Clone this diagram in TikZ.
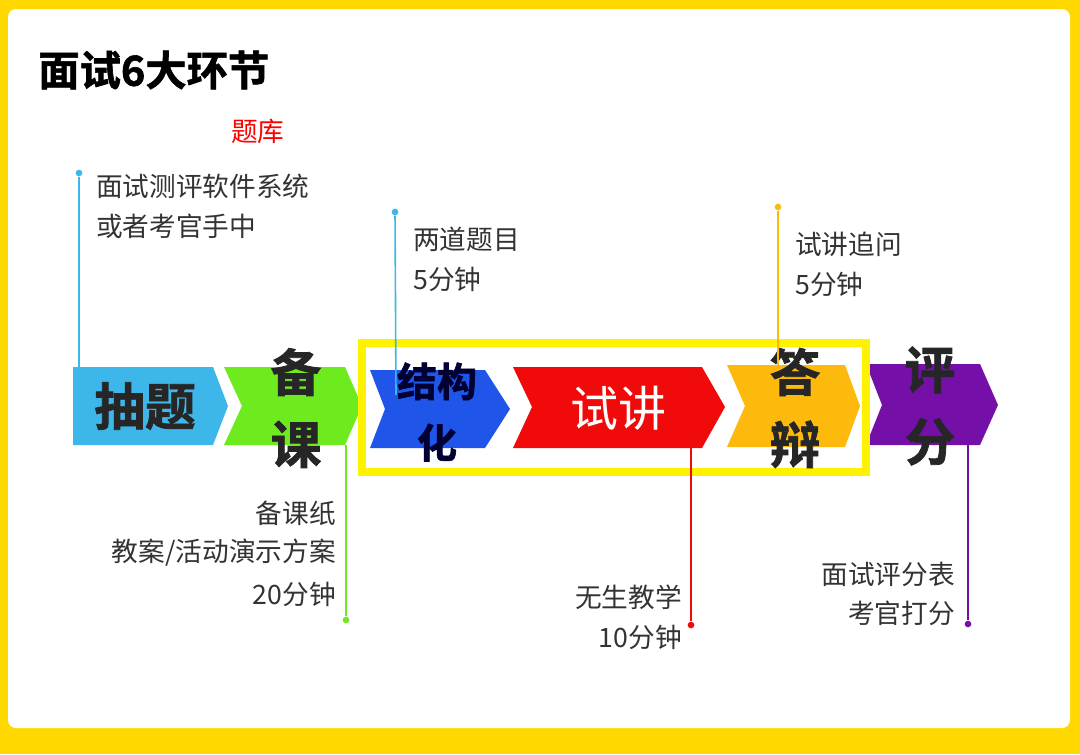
\documentclass[tikz,border=0pt]{standalone}
\usepackage{fontspec}
\setmainfont{Noto Sans CJK SC}
\newfontfamily\cjkb[FakeBold=1.5]{Noto Sans CJK SC Bold}
\definecolor{ybg}{HTML}{FFD800}
\definecolor{cyanA}{HTML}{3DB7E9}
\definecolor{greenA}{HTML}{6EEB1E}
\definecolor{blueA}{HTML}{1F55E8}
\definecolor{redA}{HTML}{F00A0A}
\definecolor{orangeA}{HTML}{FDB90C}
\definecolor{purpleA}{HTML}{7410A8}
\definecolor{txt}{HTML}{333333}
\tikzset{
 lbl/.style={font=\fontsize{20}{24}\selectfont, text=txt, inner sep=0pt},
 chev/.style={font=\cjkb\fontsize{38}{40}\selectfont, text=black!85, inner sep=0pt, align=center},
 lead/.style={line width=1.2pt},
 dotc/.style={circle, fill, inner sep=0pt, minimum size=5pt}
}
\begin{document}
\begin{tikzpicture}[x=0.75pt,y=-0.75pt]
\useasboundingbox (0,0) rectangle (1080,754);
\fill[ybg] (0,0) rectangle (1080,754);
\fill[white, rounded corners=6pt] (8,9) rectangle (1070,728);
\node[anchor=west, font=\cjkb\fontsize{31}{33}\selectfont, inner sep=0pt] (title) at (38,70) {面试6大环节};
% chevrons
\fill[cyanA] (73,367) -- (213,367) -- (228,406) -- (213,445) -- (73,445) -- cycle;
\fill[greenA] (224,367) -- (345,367) -- (362,406) -- (345,445) -- (224,445) -- (242,406) -- cycle;
\fill[blueA] (370,370) -- (485,370) -- (510,409) -- (485,448) -- (370,448) -- (385,409) -- cycle;
\fill[redA] (513,367) -- (702,367) -- (725,407) -- (702,448) -- (513,448) -- (532,407) -- cycle;
\fill[orangeA] (727,365) -- (845,365) -- (860,406) -- (845,447) -- (727,447) -- (745,406) -- cycle;
\fill[purpleA] (866,364) -- (980,364) -- (998,405) -- (980,445) -- (866,445) -- (882,405) -- cycle;
\draw[yellow, line width=6pt] (362,343) rectangle (866,472);
\node[chev] (c1) at (145,406) {抽题};
\node[chev, font=\cjkb\fontsize{38}{54}\selectfont] (c2) at (296,408) {备\\课};
\node[chev, font=\cjkb\fontsize{30}{46}\selectfont, text=black!80!blue] (c3) at (437,412) {结构\\化};
\node[chev, text=white, font=\fontsize{36}{38}\selectfont] (c4) at (618,408) {试讲};
\node[chev, font=\cjkb\fontsize{38}{54}\selectfont] (c5) at (795,408) {答\\辩};
\node[chev, font=\cjkb\fontsize{38}{54}\selectfont] (c6) at (930,406) {评\\分};
% leaders top
\node[dotc, cyanA] (d1) at (79,173) {};
\coordinate (e1) at (79,367);
\draw[lead, cyanA] (d1) -- (e1);
\node[lbl, text=red, anchor=west] (t0) at (231,131) {题库};
\node[lbl, anchor=west] (t1) at (96,186) {面试测评软件系统};
\node[lbl, anchor=west] (t2) at (96,226) {或者考官手中};
\node[dotc, cyanA] (d2) at (395,212) {};
\coordinate (e2) at (396,395);
\draw[lead, cyanA] (d2) -- (e2);
\node[lbl, anchor=west] (t3) at (413,239) {两道题目};
\node[lbl, anchor=west] (t4) at (413,279) {5分钟};
\node[dotc, orangeA] (d3) at (778,207) {};
\coordinate (e3) at (778,365);
\draw[lead, orangeA] (d3) -- (e3);
\node[lbl, anchor=west] (t5) at (795,244) {试讲追问};
\node[lbl, anchor=west] (t6) at (795,284) {5分钟};
% leaders bottom
\node[dotc, greenA] (d4) at (346,620) {};
\coordinate (e4) at (346,445);
\draw[lead, greenA] (e4) -- (d4);
\node[lbl, anchor=east] (t7) at (336,513) {备课纸};
\node[lbl, anchor=east] (t8) at (336,553) {教案/活动演示方案};
\node[lbl, anchor=east] (t9) at (336,594) {20分钟};
\node[dotc, redA] (d5) at (691,625) {};
\coordinate (e5) at (691,448);
\draw[lead, redA] (e5) -- (d5);
\node[lbl, anchor=east] (t10) at (682,597) {无生教学};
\node[lbl, anchor=east] (t11) at (682,637) {10分钟};
\node[dotc, purpleA] (d6) at (968,624) {};
\coordinate (e6) at (968,445);
\draw[lead, purpleA] (e6) -- (d6);
\node[lbl, anchor=east] (t12) at (955,574) {面试评分表};
\node[lbl, anchor=east] (t13) at (955,613) {考官打分};
\end{tikzpicture}
\end{document}
